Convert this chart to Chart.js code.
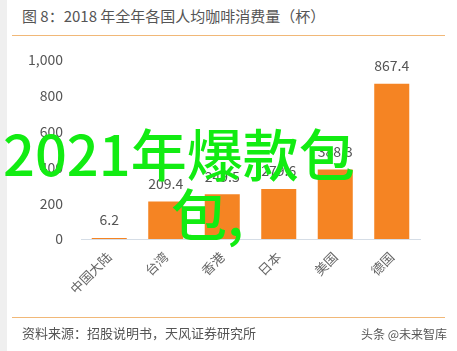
<!DOCTYPE html>
<html>
<head>
<meta charset="utf-8">
<script src="https://cdn.jsdelivr.net/npm/chart.js@4.4.0/dist/chart.umd.min.js"></script>
<style>
  body { margin: 0; background: #fff; }
  #wrap { position: relative; width: 457px; height: 351px; overflow: hidden; background: #fff;
          font-family: "Noto Sans CJK SC", "Noto Sans", sans-serif; }
  #strip { position: absolute; left: 0; top: 0; width: 7px; height: 351px; background: #efefef; }
  #title { position: absolute; left: 22px; top: 5px; font-size: 15px; color: #555; white-space: nowrap; }
  .rule { position: absolute; left: 12px; width: 433px; height: 1px; background: #f1b878; }
  #src { position: absolute; left: 22px; top: 323px; font-size: 13px; color: #555; white-space: nowrap; }
  #mark { position: absolute; right: 10px; top: 325px; font-size: 12px; color: #555; white-space: nowrap; }
  canvas { position: absolute; left: 0; top: 0; }
  .wm { position: absolute; color: #12ec12; font-size: 56px; font-weight: 500; white-space: nowrap; line-height: 1; }
</style>
</head>
<body>
<div id="wrap">
  <div id="strip"></div>
  <div id="title">图 8：2018 年全年各国人均咖啡消费量（杯）</div>
  <div class="rule" style="top:35px"></div>
  <canvas id="chart" width="457" height="351"></canvas>
  <div class="rule" style="top:317px"></div>
  <div id="src">资料来源：招股说明书，天风证券研究所</div>
  <div id="mark">头条 @未来智库</div>
  <div class="wm" style="left:3px; top:124px">2021年爆款包</div>
  <div class="wm" style="left:171px; top:184px">包,</div>
</div>
<script>
const categories = ['中国大陆', '台湾', '香港', '日本', '美国', '德国']
const cupsPerPerson = [6.2, 209.4, 249.5, 279.6, 388.3, 867.4]
const yTicks = [0, 200, 400, 600, 800, 1000]

// value labels above each bar
const barLabels = {
  id: 'barLabels',
  afterDatasetsDraw(chart) {
    const ctx = chart.ctx
    const meta = chart.getDatasetMeta(0)
    ctx.save()
    ctx.fillStyle = '#555'
    ctx.font = '14px "Noto Sans CJK SC", "Noto Sans", sans-serif'
    ctx.textAlign = 'center'
    ctx.textBaseline = 'middle'
    meta.data.forEach((bar, i) => {
      ctx.fillText(cupsPerPerson[i].toFixed(1), bar.x, bar.y - 18)
    })
    ctx.restore()
  }
}

new Chart(document.getElementById('chart'), {
  type: 'bar',
  data: {
    labels: categories,
    datasets: [{
      data: cupsPerPerson,
      backgroundColor: '#f58423',
      categoryPercentage: 1,
      barPercentage: 0.62
    }]
  },
  options: {
    responsive: false,
    animation: false,
    layout: { padding: { left: 0, top: 60, right: 37, bottom: 0 } },
    plugins: { legend: { display: false }, tooltip: { enabled: false } },
    scales: {
      x: {
        grid: { display: false },
        border: { color: '#d5dde6' },
        ticks: {
          color: '#666',
          font: { size: 13, family: '"Noto Sans CJK SC", sans-serif' },
          minRotation: 45, maxRotation: 45, padding: 2
        },
        afterFit(scale) { scale.height = 112 }
      },
      y: {
        min: 0, max: 1000,
        afterBuildTicks(scale) { scale.ticks = yTicks.map(v => ({ value: v })) },
        grid: { display: false },
        border: { display: false },
        ticks: {
          color: '#555',
          font: { size: 14, family: '"Noto Sans CJK SC", sans-serif' },
          padding: 10,
          callback: v => v.toLocaleString('en-US')
        },
        afterFit(scale) { scale.width = 81 }
      }
    }
  },
  plugins: [barLabels]
})
</script>
</body>
</html>
